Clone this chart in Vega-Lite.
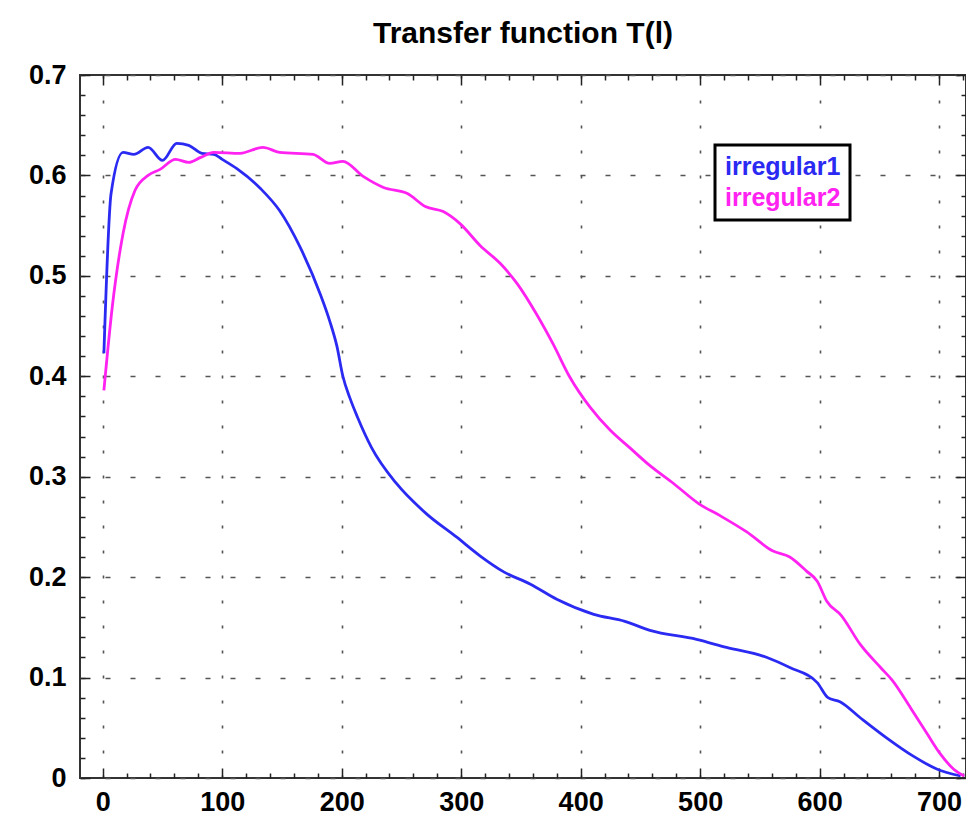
{
  "$schema": "https://vega.github.io/schema/vega-lite/v6.json",
  "width": 886,
  "height": 703,
  "autosize": {"type": "none"},
  "padding": {"left": 80, "top": 75, "right": 0, "bottom": 40},
  "background": "white",
  "title": {"text": "Transfer function T(l)", "font": "Liberation Sans", "fontSize": 30, "fontWeight": "bold", "color": "black", "anchor": "middle", "offset": 12},
  "config": {
    "view": {"stroke": "#333", "strokeWidth": 2},
    "axis": {"labelFont": "Liberation Sans", "labelFontWeight": "bold", "labelFontSize": 27, "labelColor": "black", "title": null}
  },
  "data": {"values": [
    {"s": "irregular1", "x": 1, "y": 0.423}, {"s": "irregular1", "x": 7, "y": 0.582}, {"s": "irregular1", "x": 17, "y": 0.623}, {"s": "irregular1", "x": 26, "y": 0.621}, {"s": "irregular1", "x": 38, "y": 0.628}, {"s": "irregular1", "x": 50, "y": 0.615}, {"s": "irregular1", "x": 62, "y": 0.632}, {"s": "irregular1", "x": 72, "y": 0.630}, {"s": "irregular1", "x": 83, "y": 0.622}, {"s": "irregular1", "x": 93, "y": 0.621}, {"s": "irregular1", "x": 100, "y": 0.616}, {"s": "irregular1", "x": 112, "y": 0.607}, {"s": "irregular1", "x": 132, "y": 0.587}, {"s": "irregular1", "x": 148, "y": 0.565}, {"s": "irregular1", "x": 165, "y": 0.529}, {"s": "irregular1", "x": 182, "y": 0.482}, {"s": "irregular1", "x": 190, "y": 0.455}, {"s": "irregular1", "x": 196, "y": 0.430}, {"s": "irregular1", "x": 201, "y": 0.400}, {"s": "irregular1", "x": 207, "y": 0.378}, {"s": "irregular1", "x": 213, "y": 0.360}, {"s": "irregular1", "x": 225, "y": 0.329}, {"s": "irregular1", "x": 246, "y": 0.293}, {"s": "irregular1", "x": 271, "y": 0.263}, {"s": "irregular1", "x": 296, "y": 0.240}, {"s": "irregular1", "x": 316, "y": 0.221}, {"s": "irregular1", "x": 336, "y": 0.205}, {"s": "irregular1", "x": 358, "y": 0.193}, {"s": "irregular1", "x": 380, "y": 0.178}, {"s": "irregular1", "x": 411, "y": 0.163}, {"s": "irregular1", "x": 437, "y": 0.156}, {"s": "irregular1", "x": 458, "y": 0.147}, {"s": "irregular1", "x": 497, "y": 0.138}, {"s": "irregular1", "x": 522, "y": 0.130}, {"s": "irregular1", "x": 556, "y": 0.120}, {"s": "irregular1", "x": 575, "y": 0.110}, {"s": "irregular1", "x": 598, "y": 0.095}, {"s": "irregular1", "x": 607, "y": 0.080}, {"s": "irregular1", "x": 617, "y": 0.076}, {"s": "irregular1", "x": 634, "y": 0.060}, {"s": "irregular1", "x": 656, "y": 0.040}, {"s": "irregular1", "x": 678, "y": 0.022}, {"s": "irregular1", "x": 698, "y": 0.009}, {"s": "irregular1", "x": 718, "y": 0.002},
    {"s": "irregular2", "x": 1, "y": 0.386}, {"s": "irregular2", "x": 8, "y": 0.469}, {"s": "irregular2", "x": 17, "y": 0.542}, {"s": "irregular2", "x": 27, "y": 0.585}, {"s": "irregular2", "x": 38, "y": 0.600}, {"s": "irregular2", "x": 48, "y": 0.606}, {"s": "irregular2", "x": 61, "y": 0.616}, {"s": "irregular2", "x": 72, "y": 0.613}, {"s": "irregular2", "x": 82, "y": 0.618}, {"s": "irregular2", "x": 93, "y": 0.623}, {"s": "irregular2", "x": 115, "y": 0.622}, {"s": "irregular2", "x": 134, "y": 0.628}, {"s": "irregular2", "x": 148, "y": 0.623}, {"s": "irregular2", "x": 176, "y": 0.621}, {"s": "irregular2", "x": 190, "y": 0.612}, {"s": "irregular2", "x": 201, "y": 0.614}, {"s": "irregular2", "x": 218, "y": 0.599}, {"s": "irregular2", "x": 235, "y": 0.588}, {"s": "irregular2", "x": 255, "y": 0.582}, {"s": "irregular2", "x": 270, "y": 0.569}, {"s": "irregular2", "x": 285, "y": 0.564}, {"s": "irregular2", "x": 299, "y": 0.552}, {"s": "irregular2", "x": 316, "y": 0.530}, {"s": "irregular2", "x": 333, "y": 0.512}, {"s": "irregular2", "x": 347, "y": 0.492}, {"s": "irregular2", "x": 363, "y": 0.462}, {"s": "irregular2", "x": 377, "y": 0.432}, {"s": "irregular2", "x": 391, "y": 0.399}, {"s": "irregular2", "x": 408, "y": 0.369}, {"s": "irregular2", "x": 425, "y": 0.346}, {"s": "irregular2", "x": 441, "y": 0.329}, {"s": "irregular2", "x": 457, "y": 0.312}, {"s": "irregular2", "x": 478, "y": 0.293}, {"s": "irregular2", "x": 499, "y": 0.273}, {"s": "irregular2", "x": 517, "y": 0.261}, {"s": "irregular2", "x": 539, "y": 0.245}, {"s": "irregular2", "x": 561, "y": 0.226}, {"s": "irregular2", "x": 575, "y": 0.220}, {"s": "irregular2", "x": 589, "y": 0.206}, {"s": "irregular2", "x": 598, "y": 0.196}, {"s": "irregular2", "x": 606, "y": 0.176}, {"s": "irregular2", "x": 618, "y": 0.162}, {"s": "irregular2", "x": 634, "y": 0.133}, {"s": "irregular2", "x": 651, "y": 0.110}, {"s": "irregular2", "x": 661, "y": 0.097}, {"s": "irregular2", "x": 676, "y": 0.070}, {"s": "irregular2", "x": 690, "y": 0.044}, {"s": "irregular2", "x": 701, "y": 0.024}, {"s": "irregular2", "x": 712, "y": 0.009}, {"s": "irregular2", "x": 721, "y": 0.002}
  ]},
  "layer": [
    {
      "mark": {"type": "line", "strokeWidth": 2.8, "clip": true, "interpolate": "monotone"},
      "encoding": {
        "x": {"field": "x", "type": "quantitative", "scale": {"domain": [-19, 722.5], "nice": false, "zero": false},
          "axis": {"orient": "bottom", "values": [0, 100, 200, 300, 400, 500, 600, 700], "ticks": false, "domain": false, "labelPadding": 11, "grid": true, "gridDash": [3, 22], "gridColor": "#555", "gridWidth": 1.6, "labelFlush": false}},
        "y": {"field": "y", "type": "quantitative", "scale": {"domain": [0, 0.7], "nice": false},
          "axis": {"orient": "left", "values": [0, 0.1, 0.2, 0.3, 0.4, 0.5, 0.6, 0.7], "labelExpr": "datum.value === 0 ? '0' : format(datum.value, '.1f')", "ticks": false, "domain": false, "labelPadding": 14, "grid": true, "gridDash": [5, 20], "gridColor": "#555", "gridWidth": 1.6, "labelFlush": false}},
        "color": {"field": "s", "type": "nominal", "scale": {"domain": ["irregular1", "irregular2"], "range": ["#2a2af2", "#ff22f0"]},
          "legend": {"orient": "none", "legendX": 635, "legendY": 70, "title": null, "labelFont": "Liberation Sans", "labelFontWeight": "bold", "labelFontSize": 25, "symbolSize": 0, "symbolType": "circle", "symbolStrokeWidth": 0, "symbolOpacity": 0, "labelOffset": -24, "rowPadding": 5, "padding": 9, "fillColor": "white", "strokeColor": "black",
            "encode": {"labels": {"update": {"fill": {"scale": "color", "field": "value"}}}, "legend": {"update": {"strokeWidth": {"value": 3}}}}}}
      }
    },
    {
      "mark": {"type": "line", "opacity": 0},
      "encoding": {
        "x": {"field": "x", "type": "quantitative", "scale": {"domain": [-19, 722.5], "nice": false, "zero": false},
          "axis": {"orient": "bottom", "values": [0, 20, 40, 60, 80, 100, 120, 140, 160, 180, 200, 220, 240, 260, 280, 300, 320, 340, 360, 380, 400, 420, 440, 460, 480, 500, 520, 540, 560, 580, 600, 620, 640, 660, 680, 700, 720], "labels": false, "grid": false, "domain": false, "tickColor": "#222", "tickWidth": 1.5,
            "tickSize": {"condition": {"test": "datum.value % 100 === 0", "value": -10}, "value": -5}}},
        "y": {"field": "y", "type": "quantitative", "scale": {"domain": [0, 0.7], "nice": false},
          "axis": {"orient": "left", "values": [0, 0.02, 0.04, 0.06, 0.08, 0.1, 0.12, 0.14, 0.16, 0.18, 0.2, 0.22, 0.24, 0.26, 0.28, 0.3, 0.32, 0.34, 0.36, 0.38, 0.4, 0.42, 0.44, 0.46, 0.48, 0.5, 0.52, 0.54, 0.56, 0.58, 0.6, 0.62, 0.64, 0.66, 0.68, 0.7], "labels": false, "grid": false, "domain": false, "tickColor": "#222", "tickWidth": 1.5,
            "tickSize": {"condition": {"test": "abs(datum.value * 10 - round(datum.value * 10)) < 0.001", "value": -10}, "value": -5}}},
        "detail": {"field": "s", "type": "nominal"}
      }
    },
    {
      "mark": {"type": "line", "opacity": 0},
      "encoding": {
        "x": {"field": "x", "type": "quantitative", "scale": {"domain": [-19, 722.5], "nice": false, "zero": false},
          "axis": {"orient": "top", "values": [0, 20, 40, 60, 80, 100, 120, 140, 160, 180, 200, 220, 240, 260, 280, 300, 320, 340, 360, 380, 400, 420, 440, 460, 480, 500, 520, 540, 560, 580, 600, 620, 640, 660, 680, 700, 720], "labels": false, "grid": false, "domain": false, "tickColor": "#222", "tickWidth": 1.5,
            "tickSize": {"condition": {"test": "datum.value % 100 === 0", "value": -10}, "value": -5}}},
        "y": {"field": "y", "type": "quantitative", "scale": {"domain": [0, 0.7], "nice": false},
          "axis": {"orient": "right", "values": [0, 0.02, 0.04, 0.06, 0.08, 0.1, 0.12, 0.14, 0.16, 0.18, 0.2, 0.22, 0.24, 0.26, 0.28, 0.3, 0.32, 0.34, 0.36, 0.38, 0.4, 0.42, 0.44, 0.46, 0.48, 0.5, 0.52, 0.54, 0.56, 0.58, 0.6, 0.62, 0.64, 0.66, 0.68, 0.7], "labels": false, "grid": false, "domain": false, "tickColor": "#222", "tickWidth": 1.5,
            "tickSize": {"condition": {"test": "abs(datum.value * 10 - round(datum.value * 10)) < 0.001", "value": -10}, "value": -5}}},
        "detail": {"field": "s", "type": "nominal"}
      }
    }
  ],
  "resolve": {"axis": {"x": "independent", "y": "independent"}}
}
